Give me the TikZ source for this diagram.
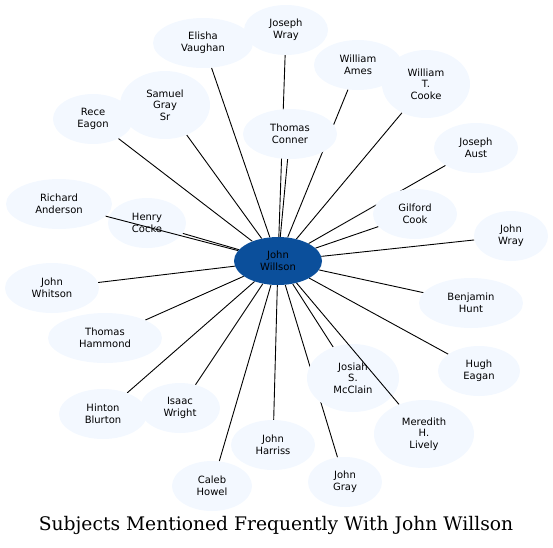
\documentclass[tikz,border=0pt]{standalone}
\usepackage{fontspec}
\usetikzlibrary{shapes.geometric}
\newfontfamily\nodefont{DejaVu Sans}
\newfontfamily\titlefont{DejaVu Serif}
\definecolor{centerblue}{RGB}{11,79,155}
\definecolor{nodefill}{RGB}{243,248,255}
\pgfdeclarelayer{edges}
\pgfsetlayers{edges,main}
\tikzset{
  x=1pt,y=-1pt,
  person/.style={ellipse,fill=nodefill,draw=none,inner sep=0pt,align=center,
    font=\fontsize{10}{11.7}\selectfont\nodefont},
  hub/.style={person,fill=centerblue,minimum width=88pt,minimum height=48pt},
  link/.style={line width=0.9pt,black},
}
\begin{document}
\begin{tikzpicture}
\useasboundingbox (0,0) rectangle (553,547);
\node[hub] (W) at (278,261) {John\\Willson};
\node[person,minimum width=100pt,minimum height=50pt] (EV) at (203,43) {Elisha\\Vaughan};
\node[person,minimum width=84pt,minimum height=50pt] (JW) at (286,30) {Joseph\\Wray};
\node[person,minimum width=90pt,minimum height=68pt] (SG) at (165,105) {Samuel\\Gray\\Sr};
\node[person,minimum width=80pt,minimum height=50pt] (RE) at (93,119) {Rece\\Eagon};
\node[person,minimum width=94pt,minimum height=50pt] (TC) at (290,134) {Thomas\\Conner};
\node[person,minimum width=106pt,minimum height=50pt] (RA) at (59,204) {Richard\\Anderson};
\node[person,minimum width=78pt,minimum height=50pt] (HC) at (147,223) {Henry\\Cocke};
\node[person,minimum width=88pt,minimum height=50pt] (WA) at (358,65) {William\\Ames};
\node[person,minimum width=88pt,minimum height=68pt] (WC) at (426,84) {William\\T.\\Cooke};
\node[person,minimum width=84pt,minimum height=50pt] (JA) at (476,148) {Joseph\\Aust};
\node[person,minimum width=84pt,minimum height=50pt] (GC) at (415,214) {Gilford\\Cook};
\node[person,minimum width=74pt,minimum height=50pt] (JR) at (511,236) {John\\Wray};
\node[person,minimum width=94pt,minimum height=50pt] (JT) at (52,288) {John\\Whitson};
\node[person,minimum width=114pt,minimum height=50pt] (TH) at (105,338) {Thomas\\Hammond};
\node[person,minimum width=88pt,minimum height=50pt] (HB) at (103,414) {Hinton\\Blurton};
\node[person,minimum width=80pt,minimum height=50pt] (IW) at (180,408) {Isaac\\Wright};
\node[person,minimum width=84pt,minimum height=50pt] (JH) at (273,445) {John\\Harriss};
\node[person,minimum width=80pt,minimum height=50pt] (CH) at (212,486) {Caleb\\Howel};
\node[person,minimum width=104pt,minimum height=50pt] (BH) at (471,303) {Benjamin\\Hunt};
\node[person,minimum width=82pt,minimum height=50pt] (HE) at (479,371) {Hugh\\Eagan};
\node[person,minimum width=92pt,minimum height=68pt] (JM) at (353,378) {Josiah\\S.\\McClain};
\node[person,minimum width=100pt,minimum height=68pt] (ML) at (424,434) {Meredith\\H.\\Lively};
\node[person,minimum width=74pt,minimum height=50pt] (JG) at (345,482) {John\\Gray};
\begin{pgfonlayer}{edges}
\foreach \n in {EV,JW,SG,RE,TC,HC,WA,WC,JA,GC,JR,JT,TH,HB,IW,JH,CH,BH,HE,JM,JG}
  \draw[link] (W) -- (\n);
\end{pgfonlayer}
\draw[link] (W) -- (RA);
\draw[link] (W) -- (ML);
\node[font=\fontsize{18.7}{22}\selectfont\titlefont] (title) at (276,525) {Subjects Mentioned Frequently With John Willson};
\end{tikzpicture}
\end{document}
